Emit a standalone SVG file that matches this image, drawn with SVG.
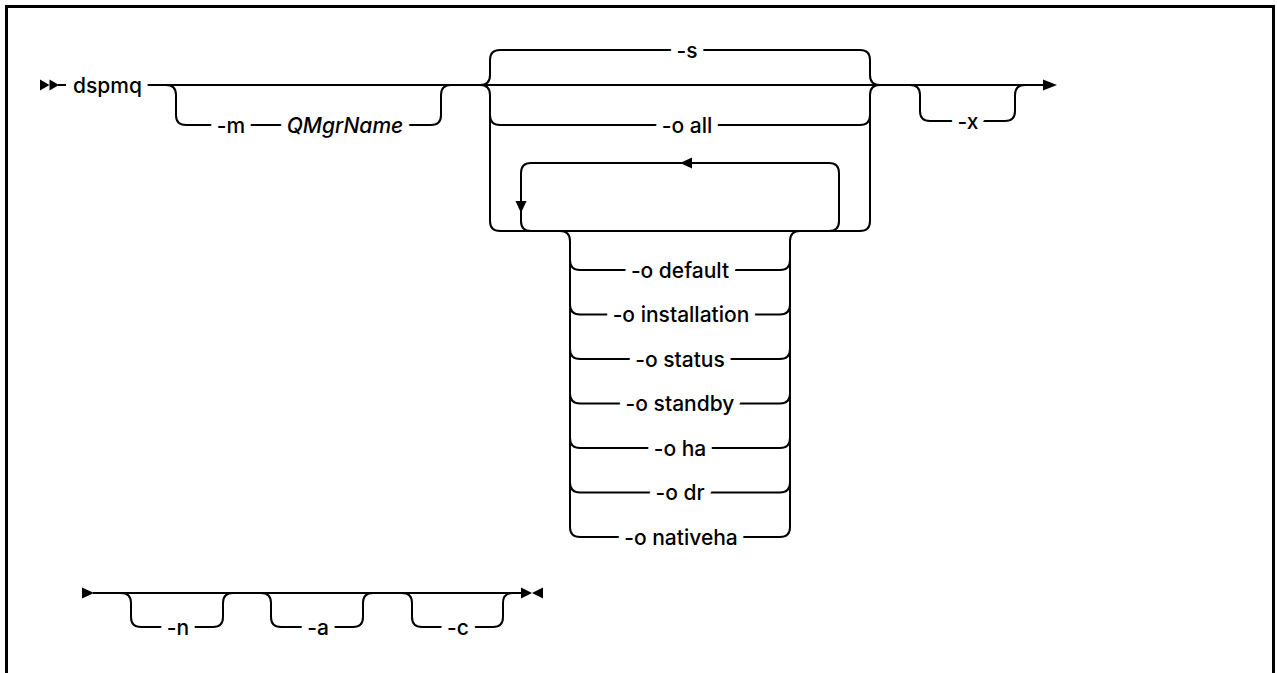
<svg xmlns="http://www.w3.org/2000/svg" width="1277" height="673" viewBox="0 0 1277 673">
<style>
.ln{fill:none;stroke:#000;stroke-width:2}
.ah{fill:#000;stroke:none}
.t{font-family:Inter,"Liberation Sans",sans-serif;font-weight:500;font-size:21px;fill:#000;text-anchor:middle;stroke:#fff;stroke-width:14px;stroke-linejoin:round;paint-order:stroke}
.i{font-style:italic}
</style>
<rect width="1277" height="673" fill="#fff"/>
<path d="M6.5,680 V6.5 H1273.5 V680" fill="none" stroke="#000" stroke-width="3"/>
<g id="connectors">
  <path class="ln" d="M58,85 H66"/>
  <path class="ln" d="M135,85 H1045"/>
  <path class="ln" d="M166,85 Q176,85 176,95 V115 Q176,125 186,125 H431 Q441,125 441,115 V95 Q441,85 451,85"/>
  <path class="ln" d="M480,85 Q490,85 490,75 V60 Q490,50 500,50 H860 Q870,50 870,60 V75 Q870,85 880,85"/>
  <path class="ln" d="M480,85 Q490,85 490,95 V221 Q490,231 500,231 H860 Q870,231 870,221 V95 Q870,85 880,85"/>
  <path class="ln" d="M490,115 Q490,125 500,125 H860 Q870,125 870,115"/>
  <path class="ln" d="M531,231 Q521,231 521,221 V173 Q521,163 531,163 H829 Q839,163 839,173 V221 Q839,231 829,231"/>
  <path class="ln" d="M560,231 Q570,231 570,241 V527 M790,527 V241 Q790,231 800,231"/>
  <path class="ln" d="M570,260 Q570,270 580,270 H780 Q790,270 790,260"/>
  <path class="ln" d="M570,304.5 Q570,314.5 580,314.5 H780 Q790,314.5 790,304.5"/>
  <path class="ln" d="M570,349 Q570,359 580,359 H780 Q790,359 790,349"/>
  <path class="ln" d="M570,393.5 Q570,403.5 580,403.5 H780 Q790,403.5 790,393.5"/>
  <path class="ln" d="M570,438 Q570,448 580,448 H780 Q790,448 790,438"/>
  <path class="ln" d="M570,482.5 Q570,492.5 580,492.5 H780 Q790,492.5 790,482.5"/>
  <path class="ln" d="M570,527 Q570,537 580,537 H780 Q790,537 790,527"/>
  <path class="ln" d="M910,85 Q920,85 920,95 V111 Q920,121 930,121 H1005 Q1015,121 1015,111 V95 Q1015,85 1025,85"/>
  <path class="ln" d="M93,593 H522"/>
  <path class="ln" d="M121,593 Q131,593 131,603 V617 Q131,627 141,627 H213 Q223,627 223,617 V603 Q223,593 233,593"/>
  <path class="ln" d="M261,593 Q271,593 271,603 V617 Q271,627 281,627 H353 Q363,627 363,617 V603 Q363,593 373,593"/>
  <path class="ln" d="M402,593 Q412,593 412,603 V617 Q412,627 422,627 H493 Q503,627 503,617 V603 Q503,593 513,593"/>
  <polygon class="ah" points="40,79.5 49.5,85 40,90.5"/>
  <polygon class="ah" points="49.5,79.5 59,85 49.5,90.5"/>
  <polygon class="ah" points="1043,79.5 1057,85 1043,90.5"/>
  <polygon class="ah" points="692,157.5 680,163 692,168.5"/>
  <polygon class="ah" points="515.5,201 526.5,201 521,213"/>
  <polygon class="ah" points="82,587.5 94,593 82,598.5"/>
  <polygon class="ah" points="521,587.5 532,593 521,598.5"/>
  <polygon class="ah" points="543,587.5 532,593 543,598.5"/>
</g>
<g id="n-dspmq"><text class="t" x="73" y="92.5" style="text-anchor:start">dspmq</text></g>
<g id="n-m"><text class="t" x="231" y="132.5">-m</text></g>
<g id="n-qmgrname"><text class="t i" x="345" y="132.5">QMgrName</text></g>
<g id="n-s"><text class="t" x="687" y="57.5">-s</text></g>
<g id="n-oall"><text class="t" x="687" y="132.5">-o all</text></g>
<g id="n-odefault"><text class="t" x="680" y="277.5">-o default</text></g>
<g id="n-oinstallation"><text class="t" x="681" y="322">-o installation</text></g>
<g id="n-ostatus"><text class="t" x="680" y="366.5">-o status</text></g>
<g id="n-ostandby"><text class="t" x="680" y="411">-o standby</text></g>
<g id="n-oha"><text class="t" x="680" y="455.5">-o ha</text></g>
<g id="n-odr"><text class="t" x="680" y="500">-o dr</text></g>
<g id="n-onativeha"><text class="t" x="681" y="544.5">-o nativeha</text></g>
<g id="n-x"><text class="t" x="968" y="128.5">-x</text></g>
<g id="n-n"><text class="t" x="178" y="634.5">-n</text></g>
<g id="n-a"><text class="t" x="318" y="634.5">-a</text></g>
<g id="n-c"><text class="t" x="458" y="634.5">-c</text></g>
</svg>
